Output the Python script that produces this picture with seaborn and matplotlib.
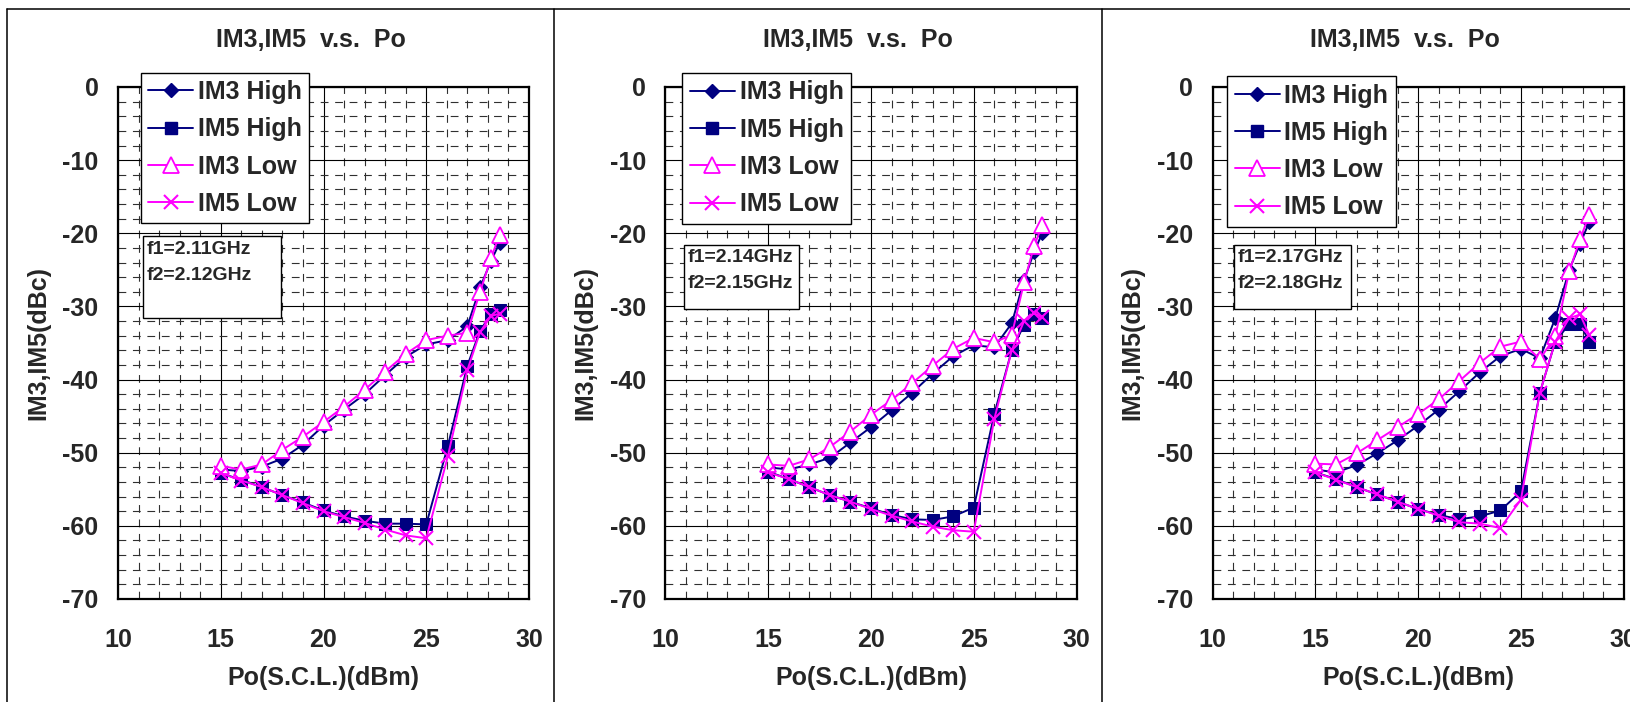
import numpy as np
import pandas as pd
import matplotlib
matplotlib.use("Agg")
import matplotlib.pyplot as plt
import seaborn as sns
from matplotlib.lines import Line2D
from matplotlib.patches import Rectangle

# Данные: три пары частот, по 4 кривые в каждой
freq_labels = [("f1=2.11GHz", "f2=2.12GHz"),
               ("f1=2.14GHz", "f2=2.15GHz"),
               ("f1=2.17GHz", "f2=2.18GHz")]

po_1 = [15, 16, 17, 18, 19, 20, 21, 22, 23, 24, 25, 26.05, 27.0, 27.62, 28.15, 28.57]
im3_high_1 = [-52.3, -52.5, -51.9, -50.8, -48.9, -46.3, -44.1, -42.0, -39.4, -36.9, -35.2, -34.6, -32.7, -27.4, -23.8, -21.3]
im5_high_1 = [-52.8, -53.7, -54.7, -55.8, -56.8, -57.9, -58.7, -59.3, -59.7, -59.7, -59.8, -49.1, -38.1, -33.3, -31.1, -30.5]
im3_low_1 = [-51.8, -52.3, -51.6, -49.6, -47.8, -45.8, -43.7, -41.4, -38.9, -36.5, -34.6, -34.0, -33.6, -28.0, -23.4, -20.2]
im5_low_1 = [-52.8, -53.8, -54.7, -55.8, -56.9, -58.0, -58.8, -59.6, -60.5, -61.3, -61.7, -50.5, -38.7, -33.5, -31.3, -31.0]

po_2 = [15, 16, 17, 18, 19, 20, 21, 22, 23, 24, 25, 26.0, 26.85, 27.45, 27.93, 28.33]
im3_high_2 = [-52.0, -52.3, -51.6, -50.7, -48.6, -46.5, -44.2, -41.8, -39.2, -36.8, -35.3, -35.6, -32.3, -26.4, -22.6, -20.0]
im5_high_2 = [-52.6, -53.6, -54.7, -55.8, -56.7, -57.6, -58.5, -59.1, -59.2, -58.7, -57.5, -44.7, -36.0, -32.5, -31.1, -31.6]
im3_low_2 = [-51.6, -51.8, -50.9, -49.2, -47.1, -44.8, -42.8, -40.5, -38.1, -35.8, -34.3, -34.9, -33.9, -26.7, -21.8, -18.9]
im5_low_2 = [-52.7, -53.6, -54.7, -55.8, -56.7, -57.7, -58.6, -59.4, -60.1, -60.6, -60.8, -45.4, -36.0, -32.0, -30.9, -31.5]

po_3 = [15, 16, 17, 18, 19, 20, 21, 22, 23, 24, 25, 25.92, 26.67, 27.35, 27.88, 28.32]
im3_high_3 = [-52.3, -52.7, -51.7, -50.1, -48.3, -46.3, -44.1, -41.6, -39.0, -36.8, -35.8, -37.1, -31.6, -25.0, -21.4, -18.5]
im5_high_3 = [-52.7, -53.6, -54.7, -55.7, -56.7, -57.7, -58.5, -59.1, -58.7, -57.9, -55.3, -41.8, -34.8, -32.4, -32.4, -34.8]
im3_low_3 = [-51.5, -51.6, -50.1, -48.3, -46.5, -44.7, -42.7, -40.2, -37.7, -35.5, -34.8, -37.2, -34.1, -25.2, -20.8, -17.5]
im5_low_3 = [-52.7, -53.7, -54.7, -55.7, -56.7, -57.7, -58.6, -59.5, -59.7, -60.3, -56.4, -41.8, -34.8, -31.6, -31.1, -33.9]

panels = [
    (po_1, [im3_high_1, im5_high_1, im3_low_1, im5_low_1]),
    (po_2, [im3_high_2, im5_high_2, im3_low_2, im5_low_2]),
    (po_3, [im3_high_3, im5_high_3, im3_low_3, im5_low_3]),
]

series_names = ["IM3 High", "IM5 High", "IM3 Low", "IM5 Low"]
navy = "#000080"
magenta = "#FF00FF"
styles = [
    dict(color=navy, marker="D", markersize=7, markerfacecolor=navy, markeredgecolor=navy),
    dict(color=navy, marker="s", markersize=9, markerfacecolor=navy, markeredgecolor=navy),
    dict(color=magenta, marker="^", markersize=11, markerfacecolor="white", markeredgecolor=magenta, markeredgewidth=1.3),
    dict(color=magenta, marker="x", markersize=10, markerfacecolor=magenta, markeredgecolor=magenta, markeredgewidth=1.5),
]

sns.set_style("white")
plt.rcParams['font.family'] = ['Liberation Sans', 'DejaVu Sans']
plt.rcParams['font.weight'] = 'bold'
plt.rcParams['axes.unicode_minus'] = False

W, H = 1631, 702
fig = plt.figure(figsize=(W / 100, H / 100), dpi=100)
fig.patch.set_facecolor("white")

# Геометрия в пикселях (от верхнего левого угла)
ax_lefts = [118, 665.5, 1212.7]
ax_width = 411
ax_top, ax_bottom = 87, 599
legend_pos = [(140.5, 72.7), (682, 73), (1227, 76)]
note_boxes = [(143, 236, 281.4, 318.3), (684, 245, 799, 309.3), (1233.6, 245, 1350.7, 309)]
note_text = [(147, 249.3, 275), (688, 258, 283), (1238, 258, 283)]


def fx(px):
    return px / W


def fy(py):
    return 1 - py / H


for i, (po, curves) in enumerate(panels):
    L = ax_lefts[i]
    ax = fig.add_axes([fx(L), fy(ax_bottom), ax_width / W, (ax_bottom - ax_top) / H])

    for name, vals, st in zip(series_names, curves, styles):
        df = pd.DataFrame({"Po": po, "val": vals})
        sns.lineplot(data=df, x="Po", y="val", ax=ax, sort=False, estimator=None,
                     linewidth=1.4, label=name, legend=False, zorder=3, **st)

    ax.set_xlim(10, 30)
    ax.set_ylim(-70, 0)
    ax.set_xticks(np.arange(10, 31, 5))
    ax.set_yticks(np.arange(-70, 1, 10))
    ax.set_xticks(np.arange(10, 31, 1), minor=True)
    ax.set_yticks(np.arange(-70, 1, 2), minor=True)
    ax.grid(which="major", color="black", linewidth=0.8, linestyle="-")
    ax.grid(which="minor", color="#303030", linewidth=0.8, linestyle=(0, (7, 6)))
    ax.set_axisbelow(True)
    ax.tick_params(which="both", length=0)
    ax.tick_params(axis="y", labelsize=18, pad=14)
    ax.tick_params(axis="x", labelsize=18, pad=21)
    for lab in ax.get_xticklabels() + ax.get_yticklabels():
        lab.set_fontweight("bold")
    for sp in ax.spines.values():
        sp.set_color("black")
        sp.set_linewidth(1.6)
    ax.set_xlabel("")
    ax.set_ylabel("")

    # Легенда
    handles = [Line2D([], [], linewidth=1.4, **st) for st in styles]
    lx, ly = legend_pos[i]
    leg = ax.legend(handles, series_names, loc="upper left",
                    bbox_to_anchor=(fx(lx), fy(ly)), bbox_transform=fig.transFigure,
                    prop=dict(size=18, weight="bold"), frameon=True, fancybox=False,
                    framealpha=1, edgecolor="black", borderaxespad=0, borderpad=0.3,
                    handlelength=1.8, handletextpad=0.2, labelspacing=0.53)
    leg.get_frame().set_linewidth(1.0)
    leg.set_zorder(10)

    # Рамка с частотами
    x0, y0, x1, y1 = note_boxes[i]
    fig.add_artist(Rectangle((fx(x0), fy(y1)), (x1 - x0) / W, (y1 - y0) / H,
                             transform=fig.transFigure, facecolor="white",
                             edgecolor="black", linewidth=1.0, zorder=5))
    tx, t1, t2 = note_text[i]
    fig.text(fx(tx), fy(t1), freq_labels[i][0], fontsize=14, fontweight="bold",
             ha="left", va="center", zorder=6)
    fig.text(fx(tx), fy(t2), freq_labels[i][1], fontsize=14, fontweight="bold",
             ha="left", va="center", zorder=6)

    # Подписи
    fig.text(fx(L + 192.5), fy(40), "IM3,IM5  v.s.  Po", fontsize=18,
             fontweight="bold", ha="center", va="center")
    fig.text(fx(L + ax_width / 2), fy(678), "Po(S.C.L.)(dBm)", fontsize=18,
             fontweight="bold", ha="center", va="center")
    fig.text(fx(L - 80), fy((ax_top + ax_bottom) / 2), "IM3,IM5(dBc)", fontsize=18,
             fontweight="bold", ha="center", va="center", rotation=90)

# Внешние рамки панелей
frame_kw = dict(color="black", linewidth=1.1, transform=fig.transFigure, zorder=1)
fig.add_artist(Line2D([fx(7), 1], [fy(9), fy(9)], **frame_kw))
for xp in [7, 554.3, 1102.3]:
    fig.add_artist(Line2D([fx(xp), fx(xp)], [fy(9), 0], **frame_kw))

fig.savefig("out.png", dpi=100)
